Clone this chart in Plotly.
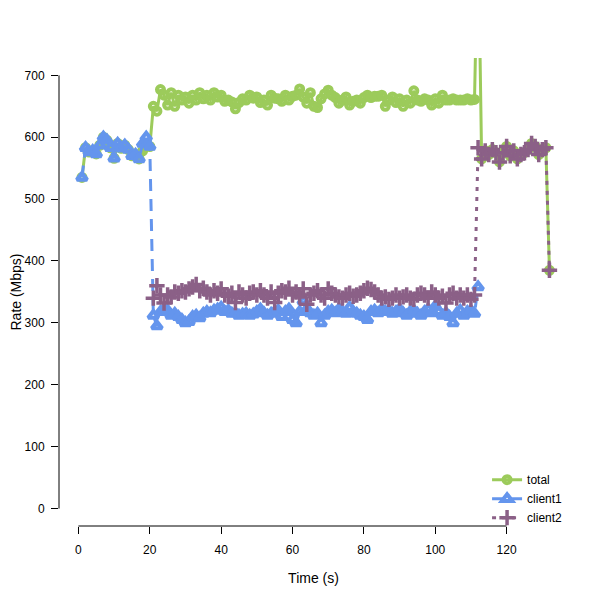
import plotly.graph_objects as go

# time in seconds
t_total = list(range(1, 133))
t_client1 = list(range(1, 113))
t_client2 = list(range(21, 133))

# rates in Mbps
client1 = [
    535, 583, 576, 578, 573, 587, 600, 595, 583, 566, 590, 582, 587, 580, 570, 572, 565, 590, 600, 585,
    312, 295, 318, 322, 320, 312, 315, 310, 305, 300, 302, 310, 312, 308, 315, 318, 316, 320, 322, 325,
    318, 320, 315, 316, 312, 314, 315, 312, 314, 318, 322, 316, 312, 315, 318, 320, 310, 318, 322, 305,
    300, 318, 335, 322, 316, 312, 315, 300, 312, 318, 320, 316, 322, 318, 315, 325, 318, 315, 312, 310,
    305, 318, 320, 316, 322, 318, 320, 315, 318, 322, 316, 312, 318, 320, 315, 312, 318, 322, 316, 327,
    318, 312, 316, 310, 300, 315, 320, 312, 318, 320, 315, 358,
]

client2 = [
    340, 360, 345, 332, 345, 342, 350, 348, 352, 350, 355, 358, 362, 352, 356, 350, 345, 352, 348, 355,
    345, 343, 348, 333, 350, 345, 340, 348, 350, 345, 352, 345, 340, 350, 333, 348, 352, 350, 356, 345,
    350, 342, 355, 330, 345, 348, 352, 345, 340, 355, 348, 345, 342, 340, 345, 348, 343, 345, 348, 352,
    356, 354, 350, 345, 340, 342, 338, 340, 345, 340, 342, 345, 340, 338, 345, 348, 345, 340, 350, 345,
    340, 343, 332, 345, 348, 340, 345, 340, 345, 338, 345,
    583, 565, 578, 572, 580, 575, 560, 575, 585, 570, 578, 565, 572, 575, 580, 590, 585, 572, 580, 583,
    385,
]

total = [
    535, 583, 576, 578, 573, 587, 600, 595, 583, 566, 590, 582, 587, 580, 570, 572, 565, 578, 590, 585,
    650, 642, 677, 668, 652, 672, 650, 668, 660, 665, 655, 668, 660, 672, 662, 668, 660, 672, 665, 668,
    658, 660, 657, 646, 656, 662, 660, 668, 663, 665, 656, 660, 652, 668, 663, 662, 658, 668, 660, 666,
    668, 678, 665, 655, 672, 650, 648, 662, 670, 676, 668, 664, 655, 660, 665, 652, 658, 660, 655, 664,
    668, 664, 666, 666, 668, 650, 660, 665, 656, 662, 650, 660, 655, 675, 660, 658, 662, 660, 652, 662,
    655, 668, 660, 660, 662, 660, 660, 660, 662, 660, 661, 941,
    565, 578, 572, 580, 575, 560, 575, 585, 570, 578, 565, 572, 575, 580, 590, 585, 572, 580, 583,
    385,
]

x_ticks = [0, 20, 40, 60, 80, 100, 120]
y_ticks = [0, 100, 200, 300, 400, 500, 600, 700]

GREEN = "#9CCB5B"
BLUE = "#6495ED"
PURPLE = "#8B6087"
FONT = "Liberation Sans, Arial, sans-serif"

fig = go.Figure()

fig.add_trace(go.Scatter(
    x=t_total, y=total, name="total", mode="lines+markers",
    line=dict(color=GREEN, width=3),
    marker=dict(symbol="circle-open", size=7, color=GREEN, line=dict(width=4, color=GREEN)),
))
fig.add_trace(go.Scatter(
    x=t_client1, y=client1, name="client1", mode="lines+markers",
    line=dict(color=BLUE, width=3, dash="12px,8px"),
    marker=dict(symbol="triangle-up-open", size=9, color=BLUE, line=dict(width=4, color=BLUE)),
))
fig.add_trace(go.Scatter(
    x=t_client2, y=client2, name="client2", mode="lines+markers",
    line=dict(color=PURPLE, width=3, dash="4px,6px"),
    marker=dict(symbol="cross-thin-open", size=11, color=PURPLE, line=dict(width=3.5, color=PURPLE)),
))

# R-style axis lines that only run between the first and last tick
fig.add_shape(type="line", xref="x", yref="paper", x0=x_ticks[0], x1=x_ticks[-1], y0=0, y1=0,
              line=dict(color="black", width=1))
fig.add_shape(type="line", xref="paper", yref="y", x0=0, x1=0, y0=y_ticks[0], y1=y_ticks[-1],
              line=dict(color="black", width=1))

# the page body adds an 8px margin, so the figure is 592px and shifted accordingly
fig.update_layout(
    width=592, height=592,
    margin=dict(l=51, r=32, t=50, b=73.5),
    paper_bgcolor="white", plot_bgcolor="white",
    font=dict(family=FONT, size=12, color="black"),
    showlegend=True,
    legend=dict(
        x=0.841, y=0.13, xanchor="left", yanchor="top",
        bgcolor="rgba(0,0,0,0)", font=dict(size=12),
    ),
)
fig.update_xaxes(
    range=[-5.44, 137.2], tickvals=x_ticks, ticks="outside", ticklen=7, tickcolor="black",
    showgrid=False, zeroline=False, showline=False, ticklabelstandoff=6, automargin=False,
    title=dict(text="Time (s)", standoff=16),
)
fig.update_yaxes(
    range=[-28.2, 728], tickvals=y_ticks, ticks="outside", ticklen=7, tickcolor="black",
    showgrid=False, zeroline=False, showline=False, ticklabelstandoff=4, automargin=False,
    title=dict(text="Rate (Mbps)", standoff=18),
)

fig.write_html("out.html")
